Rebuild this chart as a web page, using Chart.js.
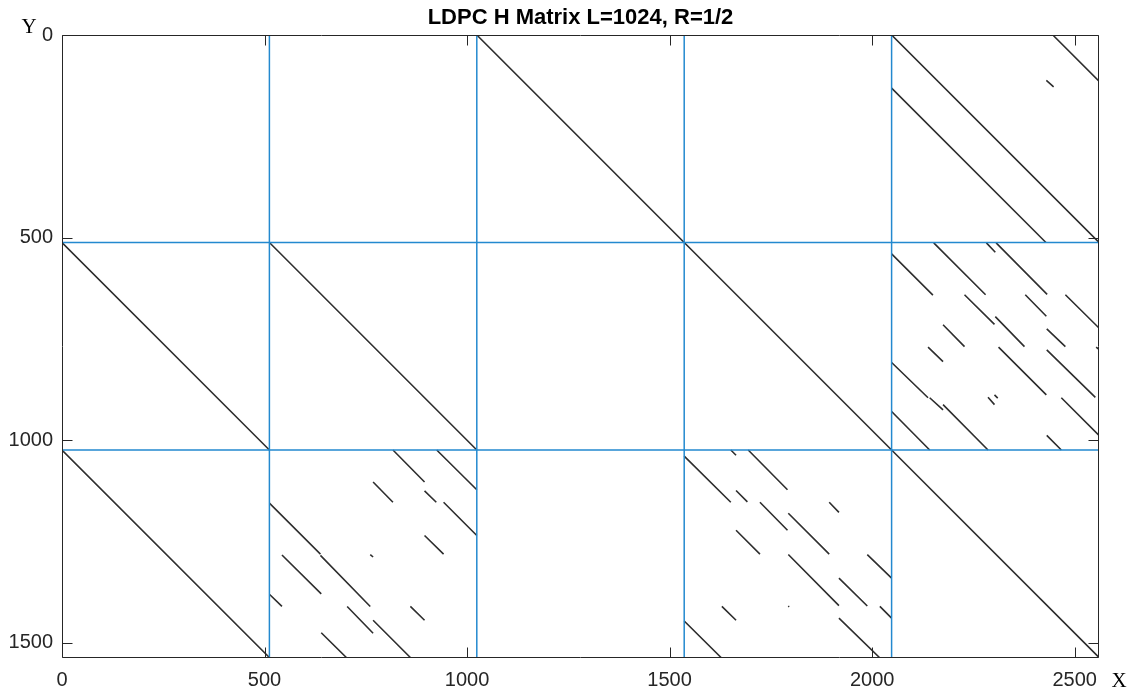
<!DOCTYPE html>
<html>
<head>
<meta charset="utf-8">
<script src="https://cdn.jsdelivr.net/npm/chart.js@4.4.1/dist/chart.umd.min.js"></script>
<style>
html,body{margin:0;padding:0;background:#fff;}
#wrap{width:1146px;height:695px;position:relative;}
</style>
</head>
<body>
<div id="wrap"><canvas id="c" width="1146" height="695"></canvas></div>
<script>
// ---- data ----
const chartTitle = 'LDPC H Matrix L=1024, R=1/2';
const xTicks = [0, 500, 1000, 1500, 2000, 2500];
const yTicks = [0, 500, 1000, 1500];
const xRange = [0, 2560];
const yRange = [0, 1536];
const blockEdgesX = [512, 1024, 1536, 2048];
const blockEdgesY = [512, 1024];

// each segment: [x1, y1, x2, y2] (column, row)
const identitySegments = [
  [1024, 0, 1536, 512],
  [2048, 0, 2560, 512],
  [0, 512, 512, 1024],
  [512, 512, 1024, 1024],
  [1536, 512, 2048, 1024],
  [0, 1024, 512, 1536],
  [2048, 1024, 2560, 1536]
];
const block04Segments = [
  [2048, 131, 2429, 512],
  [2446, 0, 2560, 114],
  [2430, 112, 2448, 128]
];
const block14Segments = [
  [2048, 540, 2150, 642],
  [2152, 513, 2280, 641],
  [2282, 513, 2304, 536],
  [2306, 513, 2432, 640],
  [2228, 641, 2302, 714],
  [2378, 641, 2430, 694],
  [2477, 641, 2560, 723],
  [2175, 715, 2228, 769],
  [2304, 695, 2376, 769],
  [2431, 725, 2477, 769],
  [2553, 770, 2560, 776],
  [2138, 770, 2175, 806],
  [2312, 770, 2430, 888],
  [2431, 777, 2551, 894],
  [2048, 808, 2138, 895],
  [2142, 895, 2175, 925],
  [2175, 912, 2286, 1024],
  [2286, 894, 2302, 912],
  [2302, 888, 2310, 896],
  [2467, 895, 2560, 988],
  [2048, 929, 2142, 1024],
  [2431, 988, 2467, 1024]
];
const block21Segments = [
  [817, 1024, 895, 1103],
  [925, 1024, 1024, 1122],
  [768, 1103, 817, 1153],
  [895, 1125, 924, 1153],
  [942, 1153, 1024, 1235],
  [512, 1155, 638, 1281],
  [638, 1284, 761, 1410],
  [895, 1235, 942, 1281],
  [761, 1282, 768, 1288],
  [543, 1283, 640, 1379],
  [512, 1380, 543, 1410],
  [704, 1410, 768, 1476],
  [860, 1410, 895, 1444],
  [768, 1444, 860, 1536],
  [640, 1475, 702, 1536]
];
const block23Segments = [
  [1651, 1024, 1664, 1037],
  [1694, 1024, 1791, 1122],
  [1536, 1039, 1651, 1153],
  [1664, 1124, 1692, 1152],
  [1723, 1153, 1791, 1222],
  [1793, 1180, 1894, 1281],
  [1894, 1153, 1918, 1178],
  [1664, 1222, 1723, 1281],
  [1793, 1282, 1918, 1408],
  [1988, 1282, 2048, 1340],
  [1918, 1340, 1988, 1409],
  [1793, 1409, 1795, 1411],
  [1629, 1410, 1664, 1444],
  [2019, 1410, 2048, 1439],
  [1536, 1446, 1627, 1536],
  [1918, 1439, 2018, 1536]
];

// ---- build datasets ----
function toPath(segs) {
  const pts = [];
  segs.forEach(s => {
    pts.push({x: s[0], y: s[1]}, {x: s[2], y: s[3]}, {x: s[2], y: null});
  });
  return pts;
}
const matrixSegments = [].concat(identitySegments, block04Segments, block14Segments, block21Segments, block23Segments);
const edgeSegments = [];
blockEdgesX.forEach(e => edgeSegments.push([e, yRange[0], e, yRange[1]]));
blockEdgesY.forEach(e => edgeSegments.push([xRange[0], e, xRange[1], e]));

const axisColor = '#262626';
const tickFont = {family: "'Liberation Sans', Arial, Helvetica, sans-serif", size: 20};

const matlabAxes = {
  id: 'matlabAxes',
  afterDatasetsDraw(chart) {
    const ctx = chart.ctx;
    const a = chart.chartArea;
    const xs = chart.scales.x, ys = chart.scales.y;
    const L = Math.round(a.left) + 0.5, R = Math.round(a.right) - 0.5;
    const T = Math.round(a.top) + 0.5, B = Math.round(a.bottom) - 0.5;
    const tl = 10;
    ctx.save();
    ctx.strokeStyle = axisColor;
    ctx.lineWidth = 1;
    ctx.beginPath();
    ctx.rect(L, T, R - L, B - T);
    xTicks.forEach(v => {
      const px = Math.round(xs.getPixelForValue(v)) + 0.5;
      ctx.moveTo(px, B); ctx.lineTo(px, B - tl);
      ctx.moveTo(px, T); ctx.lineTo(px, T + tl);
    });
    yTicks.forEach(v => {
      const py = Math.round(ys.getPixelForValue(v)) + 0.5;
      ctx.moveTo(L, py); ctx.lineTo(L + tl, py);
      ctx.moveTo(R, py); ctx.lineTo(R - tl, py);
    });
    ctx.stroke();
    // axis letters
    ctx.fillStyle = '#000';
    ctx.font = "21px 'Liberation Serif', 'Times New Roman', serif";
    ctx.textAlign = 'center';
    ctx.textBaseline = 'alphabetic';
    ctx.fillText('Y', a.left - 33, a.top - 2);
    ctx.fillText('X', a.right + 20, a.bottom + 29);
    ctx.restore();
  }
};

new Chart(document.getElementById('c'), {
  type: 'line',
  data: {
    datasets: [
      {
        label: 'block edges',
        data: toPath(edgeSegments),
        borderColor: '#2389cf',
        borderWidth: 1.5,
        pointRadius: 0,
        spanGaps: false,
        tension: 0
      },
      {
        label: 'H matrix',
        data: toPath(matrixSegments),
        borderColor: '#2e2e2e',
        borderWidth: 1.6,
        pointRadius: 0,
        spanGaps: false,
        tension: 0
      }
    ]
  },
  options: {
    responsive: false,
    animation: false,
    devicePixelRatio: 1,
    layout: {padding: {left: 0, right: 47, top: 0, bottom: 0}},
    plugins: {
      legend: {display: false},
      tooltip: {enabled: false},
      title: {
        display: true,
        text: chartTitle,
        fullSize: false,
        color: '#000',
        font: {family: "'Liberation Sans', Arial, Helvetica, sans-serif", size: 22, weight: 'bold'},
        padding: {top: 5, bottom: 3.6}
      }
    },
    scales: {
      x: {
        type: 'linear',
        position: 'bottom',
        min: xRange[0],
        max: xRange[1],
        grid: {display: false, drawTicks: false},
        border: {display: false},
        afterBuildTicks: s => { s.ticks = xTicks.map(v => ({value: v})); },
        afterFit: s => { s.height = 37.5; },
        ticks: {color: axisColor, font: tickFont, padding: 11, maxRotation: 0, autoSkip: false,
                callback: v => String(v)}
      },
      y: {
        type: 'linear',
        position: 'left',
        reverse: true,
        min: yRange[0],
        max: yRange[1],
        grid: {display: false, drawTicks: false},
        border: {display: false},
        afterBuildTicks: s => { s.ticks = yTicks.map(v => ({value: v})); },
        afterFit: s => { s.width = 62; },
        ticks: {color: axisColor, font: tickFont, padding: 9, autoSkip: false,
                callback: v => String(v)}
      }
    }
  },
  plugins: [matlabAxes]
});
</script>
</body>
</html>
